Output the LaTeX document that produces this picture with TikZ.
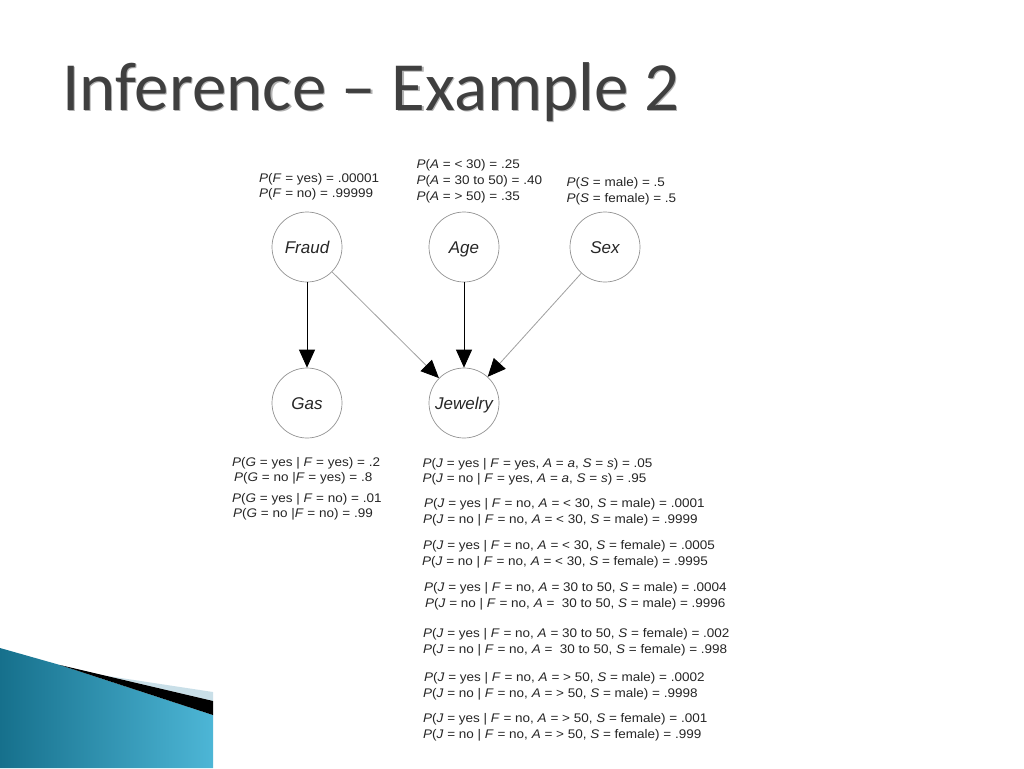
\documentclass[tikz,border=0pt]{standalone}
\usepackage{fontspec}
\setmainfont{Liberation Sans}
\newfontfamily\titlefont{Carlito}
\newfontfamily\lblfont[FakeStretch=1.08]{Liberation Sans}
\usetikzlibrary{arrows.meta}
\definecolor{titlegray}{HTML}{3F3F3F}
\definecolor{tealdark}{HTML}{16708C}
\definecolor{teallight}{HTML}{4DB6D6}
\definecolor{stripblue}{HTML}{C9DFE8}
\newcommand\iv[1]{\textit{#1}}
\begin{document}
\begin{tikzpicture}[x=1pt,y=-1pt,line join=round,
	font=\lblfont\fontsize{12.5}{15}\selectfont,
	bnode/.style={circle,draw=gray!85,line width=0.7pt,minimum size=70pt,inner sep=0pt,
		text height=12pt,text depth=0pt,font=\fontsize{17}{17}\selectfont\itshape,text=black!85},
	lbl/.style={anchor=base west,inner sep=0pt,text=black!85},
	strong/.style={draw=black,line width=0.8pt,-{Triangle[length=18pt,width=16pt]}},
	weak/.style={draw=gray!75,line width=0.8pt,-{Triangle[length=18pt,width=16pt,color=black]}}]
	\fill[white] (0,0) rectangle (1024,768);
	\useasboundingbox (0,0) rectangle (1024,768);
	% corner decoration
	\shade[left color=tealdark,right color=teallight] (0,648)--(60,665)--(213,715)--(213,768)--(0,768)--cycle;
	\fill[stripblue] (105,675.6)--(213,692)--(213,701)--cycle;
	\fill[black] (60,665)--(213,701)--(213,715)--cycle;
	\node[anchor=base west,inner sep=0pt,text=black!30,font=\titlefont\fontsize{69}{69}\selectfont] (titleshadow) at (63.2,111.2) {Inference – Example 2};
	\node[anchor=base west,inner sep=0pt,text=titlegray,font=\titlefont\fontsize{69}{69}\selectfont] (title) at (62,110) {Inference – Example 2};
	% network
	\node[bnode] (fraud) at (307,247) {Fraud};
	\node[bnode] (age) at (464,247) {Age};
	\node[bnode] (sex) at (605,247) {Sex};
	\node[bnode] (gas) at (307,403) {Gas};
	\node[bnode] (jewelry) at (464,403) {Jewelry};
	\draw[strong] (fraud)--(gas);
	\draw[strong] (age)--(jewelry);
	\draw[weak] (fraud)--(jewelry);
	\draw[weak] (sex)--(jewelry);
	% priors
	\foreach \n/\x/\y/\t in {
		fp1/259/182/{\iv{P}(\iv{F} = yes) = .00001},
		fp2/259/197.5/{\iv{P}(\iv{F} = no) = .99999},
		ap1/416.5/168/{\iv{P}(\iv{A} = < 30) = .25},
		ap2/416.5/184/{\iv{P}(\iv{A} = 30 to 50) = .40},
		ap3/416.5/200/{\iv{P}(\iv{A} = > 50) = .35},
		sp1/566.5/186.5/{\iv{P}(\iv{S} = male) = .5},
		sp2/566.5/202/{\iv{P}(\iv{S} = female) = .5}}
	\node[lbl] (\n) at (\x,\y) {\t};
	% gas table
	\foreach \n/\x/\y/\t in {
		gp1/232/466.5/{\iv{P}(\iv{G} = yes | \iv{F} = yes) = .2},
		gp2/234/481.5/{\iv{P}(\iv{G} = no |\iv{F} = yes) = .8},
		gp3/232/502.5/{\iv{P}(\iv{G} = yes | \iv{F} = no) = .01},
		gp4/233/517.5/{\iv{P}(\iv{G} = no |\iv{F} = no) = .99}}
	\node[lbl] (\n) at (\x,\y) {\t};
	% jewelry table
	\foreach \n/\x/\y/\t in {
		jp1/422.5/467.5/{\iv{P}(\iv{J} = yes | \iv{F} = yes, \iv{A} = \iv{a}, \iv{S} = \iv{s}) = .05},
		jp2/422.5/482.5/{\iv{P}(\iv{J} = no | \iv{F} = yes, \iv{A} = \iv{a}, \iv{S} = \iv{s}) = .95},
		jp3/424/507.5/{\iv{P}(\iv{J} = yes | \iv{F} = no, \iv{A} = < 30, \iv{S} = male) = .0001},
		jp4/423/523/{\iv{P}(\iv{J} = no | \iv{F} = no, \iv{A} = < 30, \iv{S} = male) = .9999},
		jp5/423/549.5/{\iv{P}(\iv{J} = yes | \iv{F} = no, \iv{A} = < 30, \iv{S} = female) = .0005},
		jp6/422/565/{\iv{P}(\iv{J} = no | \iv{F} = no, \iv{A} = < 30, \iv{S} = female) = .9995},
		jp7/424/591.5/{\iv{P}(\iv{J} = yes | \iv{F} = no, \iv{A} = 30 to 50, \iv{S} = male) = .0004},
		jp8/425/607/{\iv{P}(\iv{J} = no | \iv{F} = no, \iv{A} =\ \ 30 to 50, \iv{S} = male) = .9996},
		jp9/423/637.5/{\iv{P}(\iv{J} = yes | \iv{F} = no, \iv{A} = 30 to 50, \iv{S} = female) = .002},
		jp10/423/653/{\iv{P}(\iv{J} = no | \iv{F} = no, \iv{A} =\ \ 30 to 50, \iv{S} = female) = .998},
		jp11/424/681.5/{\iv{P}(\iv{J} = yes | \iv{F} = no, \iv{A} = > 50, \iv{S} = male) = .0002},
		jp12/423/697/{\iv{P}(\iv{J} = no | \iv{F} = no, \iv{A} = > 50, \iv{S} = male) = .9998},
		jp13/423/722.5/{\iv{P}(\iv{J} = yes | \iv{F} = no, \iv{A} = > 50, \iv{S} = female) = .001},
		jp14/423/738/{\iv{P}(\iv{J} = no | \iv{F} = no, \iv{A} = > 50, \iv{S} = female) = .999}}
	\node[lbl] (\n) at (\x,\y) {\t};
\end{tikzpicture}
\end{document}
